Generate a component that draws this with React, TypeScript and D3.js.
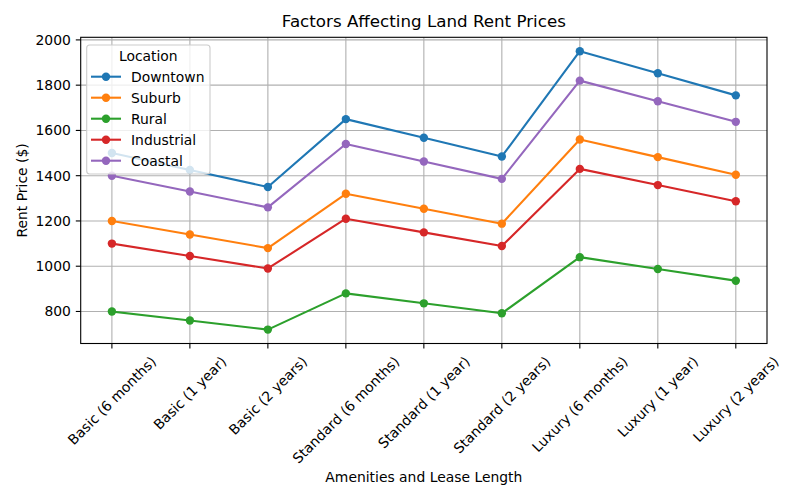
import React, { useEffect, useRef } from "react";
import * as d3 from "d3";

const categories = [
  "Basic (6 months)",
  "Basic (1 year)",
  "Basic (2 years)",
  "Standard (6 months)",
  "Standard (1 year)",
  "Standard (2 years)",
  "Luxury (6 months)",
  "Luxury (1 year)",
  "Luxury (2 years)",
];

const downtown = [1500, 1425, 1350, 1650, 1567.5, 1485, 1950, 1852.5, 1755];
const suburb = [1200, 1140, 1080, 1320, 1254, 1188, 1560, 1482, 1404];
const rural = [800, 760, 720, 880, 836, 792, 1040, 988, 936];
const industrial = [1100, 1045, 990, 1210, 1149.5, 1089, 1430, 1358.5, 1287];
const coastal = [1400, 1330, 1260, 1540, 1463, 1386, 1820, 1729, 1638];

const seriesNames = ["Downtown", "Suburb", "Rural", "Industrial", "Coastal"];
const seriesValues = [downtown, suburb, rural, industrial, coastal];
const colors = ["#1f77b4", "#ff7f0e", "#2ca02c", "#d62728", "#9467bd"];
const yTicks = [800, 1000, 1200, 1400, 1600, 1800, 2000];

const W = 800;
const H = 500;
const M = { left: 80.7, right: 767, top: 37.3, bottom: 343.5 };
const FONT = "DejaVu Sans, sans-serif";

export default function App() {
  const ref = useRef<SVGSVGElement>(null);

  useEffect(() => {
    const svg = d3.select(ref.current);
    svg.selectAll("*").remove();

    const n = categories.length;
    const x = d3
      .scaleLinear()
      .domain([-0.4, n - 1 + 0.4])
      .range([M.left, M.right]);
    const all = seriesValues.flat();
    const lo = d3.min(all) as number;
    const hi = d3.max(all) as number;
    const pad = (hi - lo) * 0.05;
    const y = d3
      .scaleLinear()
      .domain([lo - pad, hi + pad])
      .range([M.bottom, M.top]);

    svg.append("rect").attr("width", W).attr("height", H).attr("fill", "white");

    // grid
    const g = svg.append("g");
    categories.forEach((_, i) => {
      g.append("line")
        .attr("x1", x(i)).attr("x2", x(i))
        .attr("y1", M.top).attr("y2", M.bottom)
        .attr("stroke", "#b0b0b0").attr("stroke-width", 1.1);
    });
    yTicks.forEach((t) => {
      g.append("line")
        .attr("x1", M.left).attr("x2", M.right)
        .attr("y1", y(t)).attr("y2", y(t))
        .attr("stroke", "#b0b0b0").attr("stroke-width", 1.1);
    });

    // series
    const line = d3
      .line<number>()
      .x((_, i) => x(i))
      .y((d) => y(d));
    seriesValues.forEach((vals, si) => {
      svg.append("path")
        .attr("d", line(vals) as string)
        .attr("fill", "none")
        .attr("stroke", colors[si])
        .attr("stroke-width", 2.1)
        .attr("stroke-linejoin", "round")
        .attr("stroke-linecap", "square");
      vals.forEach((v, i) => {
        svg.append("circle")
          .attr("cx", x(i)).attr("cy", y(v)).attr("r", 4.2)
          .attr("fill", colors[si]);
      });
    });

    // spines
    svg.append("rect")
      .attr("x", M.left).attr("y", M.top)
      .attr("width", M.right - M.left).attr("height", M.bottom - M.top)
      .attr("fill", "none").attr("stroke", "black").attr("stroke-width", 1.1);

    // y ticks
    yTicks.forEach((t) => {
      svg.append("line")
        .attr("x1", M.left - 4.9).attr("x2", M.left)
        .attr("y1", y(t)).attr("y2", y(t))
        .attr("stroke", "black").attr("stroke-width", 1.1);
      svg.append("text")
        .attr("x", M.left - 4.9 - 4.9).attr("y", y(t))
        .attr("text-anchor", "end").attr("dominant-baseline", "central")
        .attr("font-family", FONT).attr("font-size", 13.9)
        .text(String(t));
    });

    // x ticks
    categories.forEach((c, i) => {
      const tx = x(i);
      svg.append("line")
        .attr("x1", tx).attr("x2", tx)
        .attr("y1", M.bottom).attr("y2", M.bottom + 4.9)
        .attr("stroke", "black").attr("stroke-width", 1.1);
      const t = svg.append("text")
        .attr("text-anchor", "middle").attr("dominant-baseline", "central")
        .attr("font-family", FONT).attr("font-size", 13.9)
        .text(c);
      const w = (t.node() as SVGTextElement).getComputedTextLength();
      const h = 16;
      const side = (w + h) / Math.SQRT2;
      const top = M.bottom + 4.9 + 4.9;
      const cy = top + side / 2;
      t.attr("transform", `translate(${tx},${cy}) rotate(-45)`);
    });

    // title and labels
    const cx = (M.left + M.right) / 2;
    svg.append("text")
      .attr("x", cx).attr("y", 27)
      .attr("text-anchor", "middle")
      .attr("font-family", FONT).attr("font-size", 16.7)
      .text("Factors Affecting Land Rent Prices");
    svg.append("text")
      .attr("x", cx).attr("y", 482)
      .attr("text-anchor", "middle")
      .attr("font-family", FONT).attr("font-size", 13.9)
      .text("Amenities and Lease Length");
    svg.append("text")
      .attr("transform", `translate(27,${(M.top + M.bottom) / 2}) rotate(-90)`)
      .attr("text-anchor", "middle")
      .attr("font-family", FONT).attr("font-size", 13.9)
      .text("Rent Price ($)");

    // legend
    const lg = svg.append("g");
    lg.append("rect")
      .attr("x", 86.7).attr("y", 45).attr("width", 123.3).attr("height", 129)
      .attr("rx", 3).attr("fill", "white").attr("fill-opacity", 0.8)
      .attr("stroke", "#cccccc").attr("stroke-width", 1.1);
    lg.append("text")
      .attr("x", 148.3).attr("y", 56).attr("text-anchor", "middle")
      .attr("dominant-baseline", "central")
      .attr("font-family", FONT).attr("font-size", 13.9)
      .text("Location");
    seriesNames.forEach((name, i) => {
      const ly = 76.7 + i * 21;
      lg.append("line")
        .attr("x1", 91).attr("x2", 121).attr("y1", ly).attr("y2", ly)
        .attr("stroke", colors[i]).attr("stroke-width", 2.1);
      lg.append("circle").attr("cx", 106).attr("cy", ly).attr("r", 4.2).attr("fill", colors[i]);
      lg.append("text")
        .attr("x", 131).attr("y", ly).attr("dominant-baseline", "central")
        .attr("font-family", FONT).attr("font-size", 13.9)
        .text(name);
    });
  }, []);

  return (
    <svg
      ref={ref}
      width={W}
      height={H}
      style={{ position: "absolute", left: 0, top: 0, display: "block" }}
    />
  );
}
